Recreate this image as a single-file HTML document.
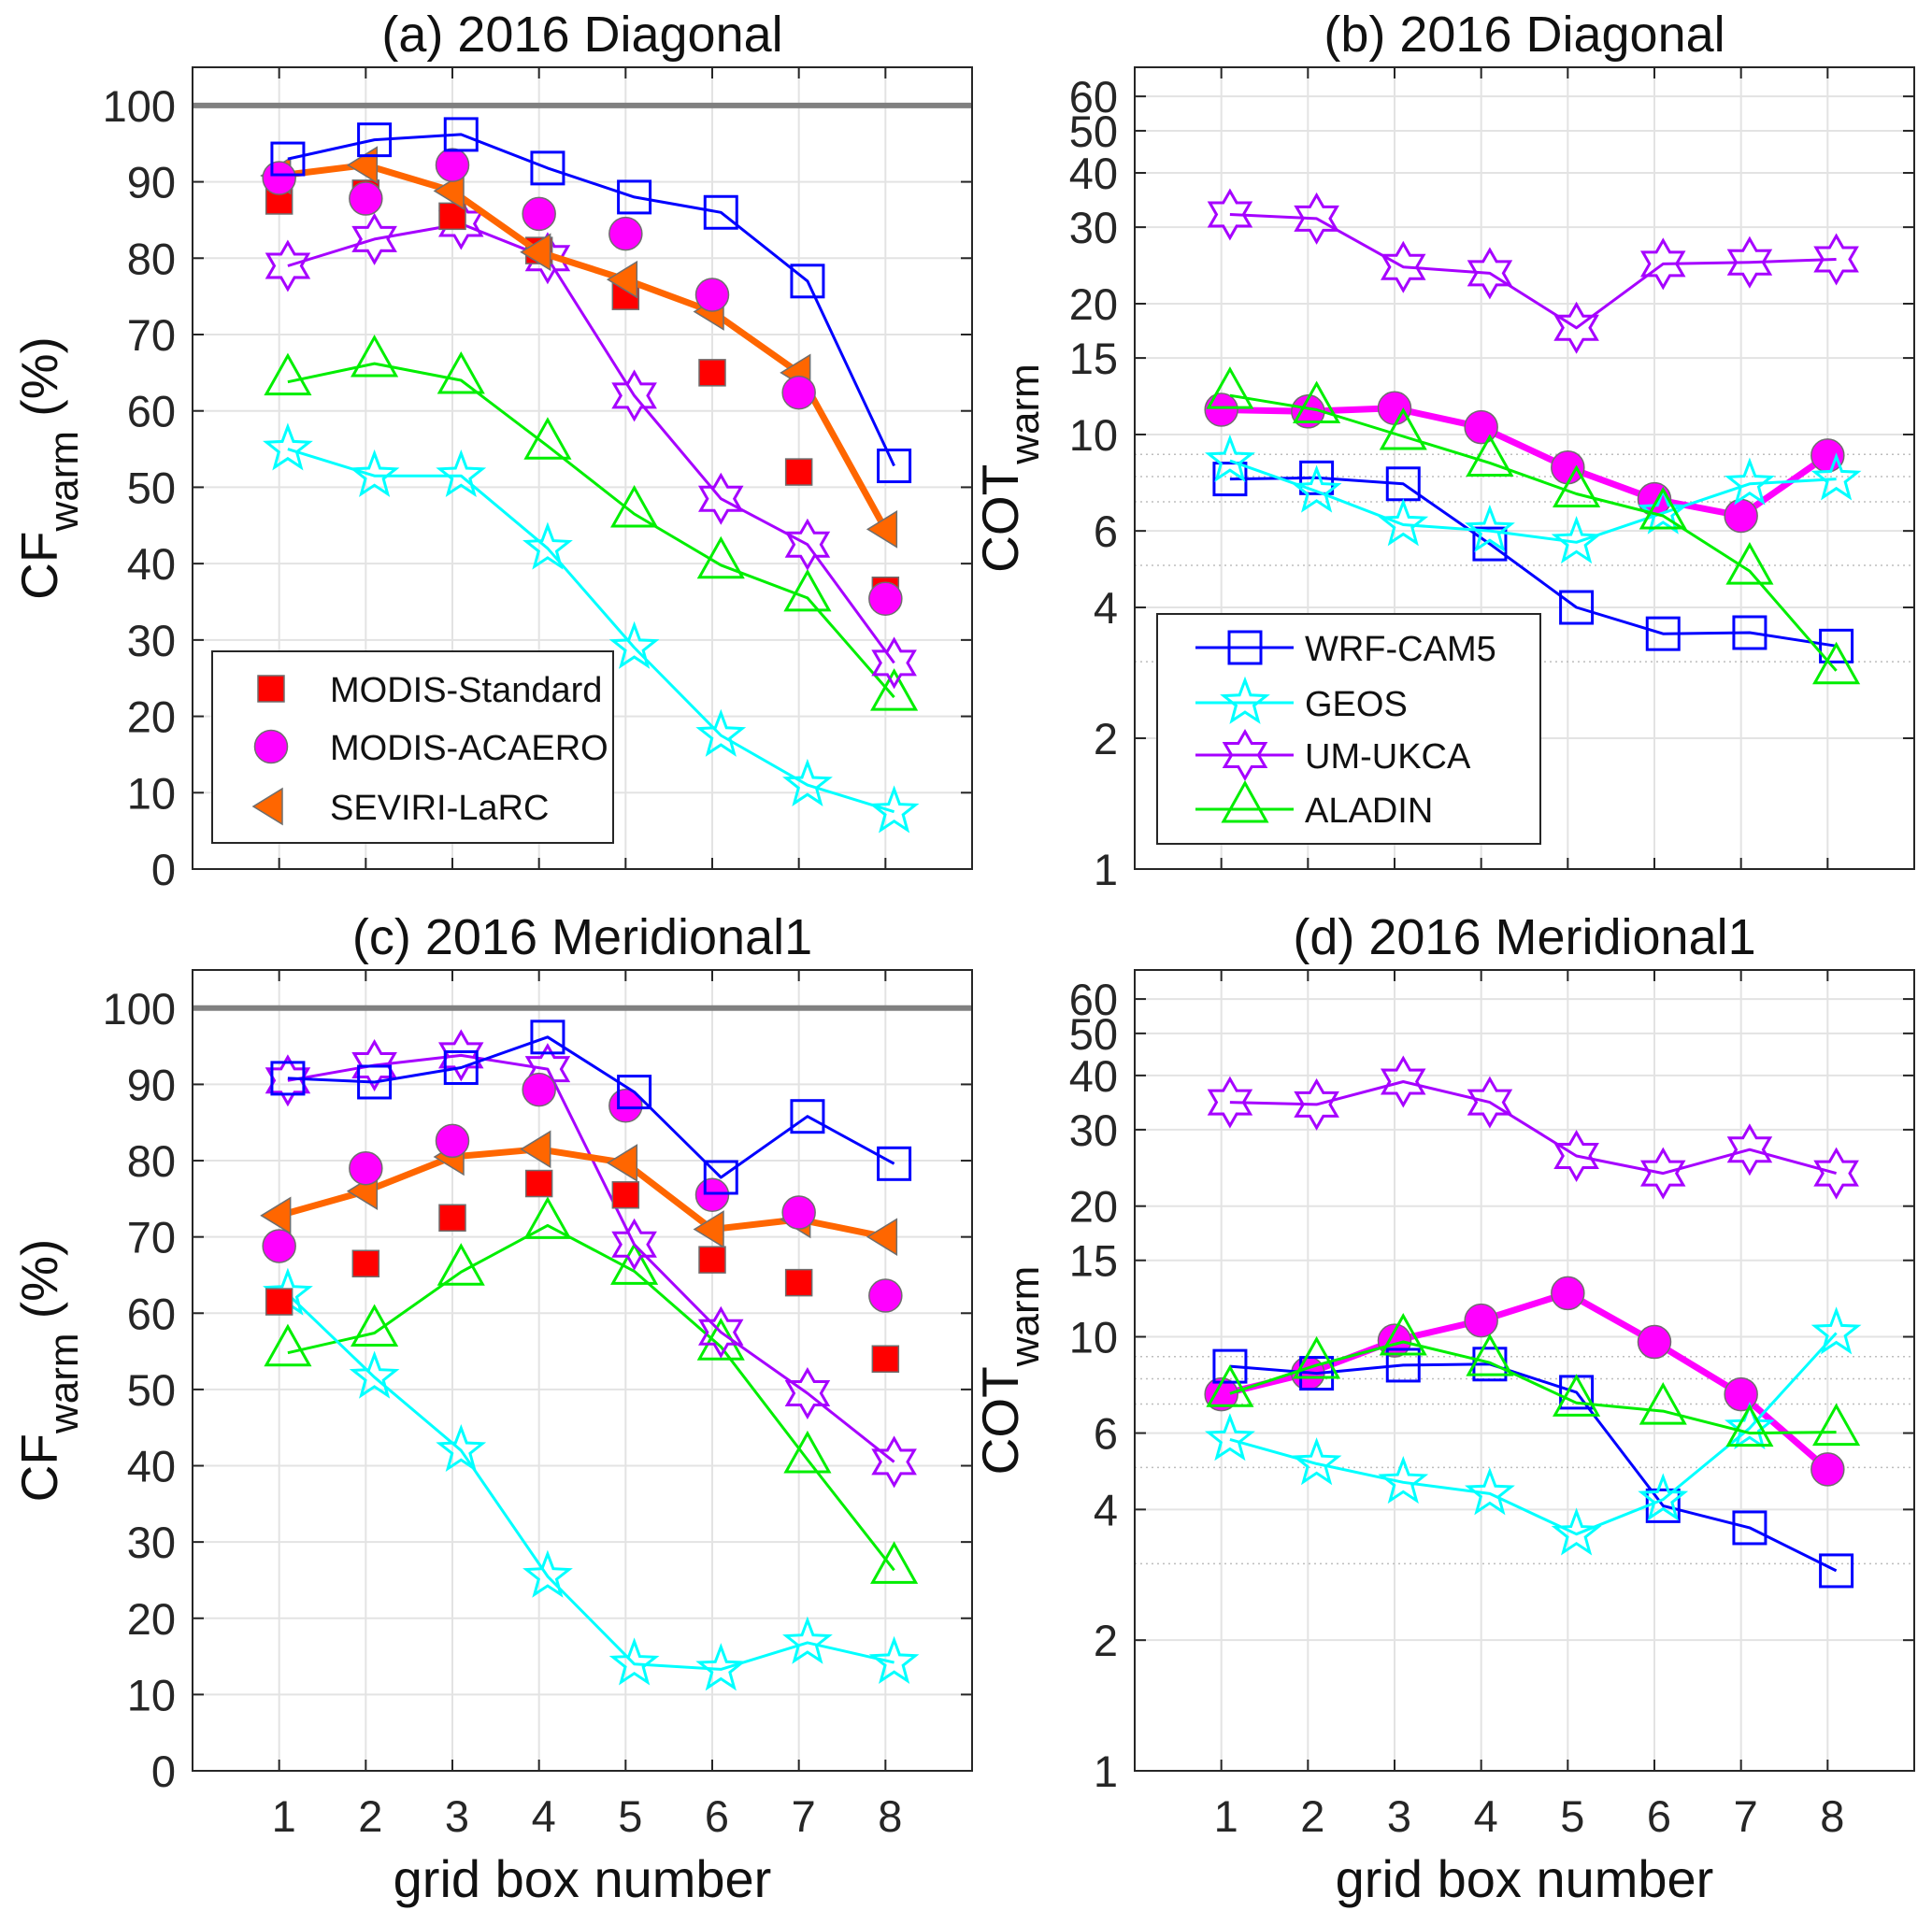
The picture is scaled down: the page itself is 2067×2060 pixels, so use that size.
<!DOCTYPE html>
<html><head><meta charset="utf-8"><style>
html,body{margin:0;padding:0;background:#fff;}
svg{display:block;font-family:"Liberation Sans",Arial,sans-serif;}
</style></head><body>
<svg id="fig" width="2067" height="2060" viewBox="0 0 2067 2060" xmlns="http://www.w3.org/2000/svg"></svg>
<script>
// ---- data ----
const boxes = [1,2,3,4,5,6,7,8];
const cfTicks = [0,10,20,30,40,50,60,70,80,90,100];
const cotTicks = [1,2,4,6,10,15,20,30,40,50,60];
const cotMinor = [3,5,7,8,9];
// panel (a) 2016 Diagonal, CF
const aModisStd = [87.5,88.5,85.5,81,75,65,52,36.5];
const aModisAca = [90.5,87.8,92.2,85.8,83.2,75.2,62.4,35.4];
const aSeviri = [90.8,92.2,88.8,80.8,77.2,73.0,65.0,44.5];
const aWrf = [93,95.5,96.2,91.8,88,86,77,52.8];
const aGeos = [55,51.5,51.5,42,29,17.5,11,7.5];
const aUm = [79,82.5,84.5,80,62,48.5,42.5,27];
const aAladin = [63.8,66.2,64,55.4,46.5,39.8,35.5,22.5];
// panel (b) 2016 Diagonal, COT
const bModisAca = [11.4,11.3,11.5,10.4,8.4,7.1,6.5,8.95];
const bWrf = [7.9,7.95,7.7,5.6,4.0,3.48,3.5,3.26];
const bGeos = [8.7,7.4,6.2,6.0,5.65,6.6,7.7,7.9];
const bUm = [32.1,31.4,24.3,23.5,17.6,24.7,24.9,25.3];
const bAladin = [12.3,11.4,9.9,8.6,7.3,6.5,4.85,2.86];
// panel (c) 2016 Meridional1, CF
const cModisStd = [61.5,66.5,72.5,77,75.5,67,64,54];
const cModisAca = [68.8,79,82.6,89.3,87.2,75.5,73.2,62.3];
const cSeviri = [72.8,76,80.5,81.5,79.7,71,72.3,70];
const cWrf = [90.8,90.3,92.2,96.2,89,77.8,85.8,79.6];
const cGeos = [62.5,51.6,42,25.5,14,13.3,16.8,14.2];
const cUm = [90.5,92.5,93.8,92,69,57.5,49.5,40.5];
const cAladin = [54.8,57.4,65.4,71.5,65.5,55.6,40.8,26.3];
// panel (d) 2016 Meridional1, COT
const dModisAca = [7.37,8.24,9.8,10.9,12.6,9.73,7.37,4.95];
const dWrf = [8.55,8.24,8.6,8.65,7.45,4.08,3.63,2.89];
const dGeos = [5.8,5.1,4.62,4.35,3.51,4.22,6.16,10.2];
const dUm = [34.7,34.3,38.7,34.7,26.1,23.8,27,23.8];
const dAladin = [7.4,8.6,9.73,8.72,7.04,6.74,6.0,6.03];

const NS = "http://www.w3.org/2000/svg";
const svg = document.getElementById('fig');
function mk(tag, attrs, parent){
  const e = document.createElementNS(NS, tag);
  for (const k in attrs) e.setAttribute(k, attrs[k]);
  (parent||svg).appendChild(e);
  return e;
}
const C = {wrf:'#0000ff', geos:'#00ffff', um:'#a600ff', aladin:'#00ee00', orange:'#ff6600', mag:'#ff00ff', red:'#ff0000', edge:'#6e6e6e'};

function makePanel(L,T,R,B,log){
  const p = {L,T,R,B,log};
  p.x = v => L + v/9*(R-L);
  if (log){ const lmax = Math.log10(70); p.y = v => B - Math.log10(v)/lmax*(B-T); }
  else p.y = v => B - v/105*(B-T);
  return p;
}

function marker(g, type, cx, cy, col){
  let e;
  if (type==='sq'){ e = mk('rect',{x:cx-17,y:cy-17,width:34,height:34,fill:'none',stroke:col,'stroke-width':3},g); }
  else if (type==='rsq'){ e = mk('rect',{x:cx-14,y:cy-14,width:28,height:28,fill:C.red,stroke:C.edge,'stroke-width':1.5},g); }
  else if (type==='circ'){ e = mk('circle',{cx:cx,cy:cy,r:17.5,fill:C.mag,stroke:C.edge,'stroke-width':1.5},g); }
  else if (type==='ltri'){ e = mk('polygon',{points:`${cx-19},${cy} ${cx+12},${cy-19} ${cx+12},${cy+19}`,fill:C.orange,stroke:C.edge,'stroke-width':1.5},g); }
  else if (type==='tri'){ e = mk('polygon',{points:`${cx},${cy-28} ${cx+23},${cy+13} ${cx-23},${cy+13}`,fill:'none',stroke:col,'stroke-width':3},g); }
  else if (type==='hex'){
    const r=25; let pts=[];
    for(let i=0;i<12;i++){ const a=-Math.PI/2+i*Math.PI/6; const rr = i%2===0? r : r*0.577; pts.push((cx+rr*Math.cos(a)).toFixed(1)+','+(cy+rr*Math.sin(a)).toFixed(1)); }
    e = mk('polygon',{points:pts.join(' '),fill:'none',stroke:col,'stroke-width':3},g);
  }
  else if (type==='pent'){
    const r=24; let pts=[];
    for(let i=0;i<10;i++){ const a=-Math.PI/2+i*Math.PI/5; const rr = i%2===0? r : r*0.42; pts.push((cx+rr*Math.cos(a)).toFixed(1)+','+(cy+rr*Math.sin(a)).toFixed(1)); }
    e = mk('polygon',{points:pts.join(' '),fill:'none',stroke:col,'stroke-width':3},g);
  }
  return e;
}

function series(p, name, vals, type, col, off, lineW){
  const g = mk('g',{});
  
  
  if (lineW){
    const d = vals.map((v,i)=>(i?'L':'M')+p.x(boxes[i]+off).toFixed(1)+','+p.y(v).toFixed(1)).join(' ');
    mk('path',{d:d,fill:'none',stroke:col,'stroke-width':lineW,'stroke-linejoin':'round'},g);
  }
  vals.forEach((v,i)=>{
    const m = marker(g, type, p.x(boxes[i]+off), p.y(v), col);
    
    
  });
}

function axes(p, title, ylabel, pname){
  const g = mk('g',{});
  
  
  mk('rect',{x:p.L,y:p.T,width:p.R-p.L,height:p.B-p.T,fill:'#fff'},g);
  boxes.forEach(b=>{ mk('line',{x1:p.x(b),x2:p.x(b),y1:p.T,y2:p.B,stroke:'#e3e3e3','stroke-width':2},g); });
  const ticks = p.log ? cotTicks : cfTicks;
  ticks.forEach(t=>{ mk('line',{x1:p.L,x2:p.R,y1:p.y(t),y2:p.y(t),stroke:'#e3e3e3','stroke-width':2},g); });
  if (p.log) cotMinor.forEach(t=>{ mk('line',{x1:p.L,x2:p.R,y1:p.y(t),y2:p.y(t),stroke:'#bdbdbd','stroke-width':1.5,'stroke-dasharray':'2,4'},g); });
  boxes.forEach(b=>{
    mk('line',{x1:p.x(b),x2:p.x(b),y1:p.B,y2:p.B-12,stroke:'#262626','stroke-width':2},g);
    mk('line',{x1:p.x(b),x2:p.x(b),y1:p.T,y2:p.T+12,stroke:'#262626','stroke-width':2},g);
  });
  ticks.forEach(t=>{
    mk('line',{x1:p.L,x2:p.L+12,y1:p.y(t),y2:p.y(t),stroke:'#262626','stroke-width':2},g);
    mk('line',{x1:p.R,x2:p.R-12,y1:p.y(t),y2:p.y(t),stroke:'#262626','stroke-width':2},g);
    const tx = mk('text',{x:p.L-18,y:p.y(t)+17,'text-anchor':'end','font-size':47,fill:'#262626'},g);
    tx.textContent = t;
    
    
  });
  if (pname==='panel-c'||pname==='panel-d'){
    boxes.forEach(b=>{
      const tx = mk('text',{x:p.x(b)+5,y:1960,'text-anchor':'middle','font-size':47,fill:'#262626'},g);
      tx.textContent = b;
      
      
    });
    const xl = mk('text',{x:(p.L+p.R)/2,y:2030,'text-anchor':'middle','font-size':56,fill:'#111'},g);
    xl.textContent = 'grid box number';
    
    
  }
  const tt = mk('text',{x:(p.L+p.R)/2,y:p.T-17,'text-anchor':'middle','font-size':54,fill:'#111'},g);
  tt.textContent = title;
  
  
  const cy = (p.T+p.B)/2;
  const lx = p.L - (p.log ? 125 : 145);
  const yl = mk('text',{x:0,y:0,'text-anchor':'middle','font-size':55,fill:'#111',transform:`translate(${lx},${cy}) rotate(-90)`},g);
  
  
  const t1 = mk('tspan',{},yl); t1.textContent = ylabel;
  const t2 = mk('tspan',{'font-size':44,dy:22},yl); t2.textContent = 'warm';
  if (!p.log){ const t3 = mk('tspan',{dy:-22},yl); t3.textContent = ' (%)'; }
}

function frame(p){
  mk('rect',{x:p.L,y:p.T,width:p.R-p.L,height:p.B-p.T,fill:'none',stroke:'#262626','stroke-width':2});
}

function cfPanel(p, title, pname, std, aca, sev, wrf, geos, um, ala){
  axes(p, title, 'CF', pname);
  mk('line',{x1:p.L,x2:p.R,y1:p.y(100),y2:p.y(100),stroke:'#808080','stroke-width':6});
  series(p,'aladin-series',ala,'tri',C.aladin,0.1,3);
  series(p,'geos-series',geos,'pent',C.geos,0.1,3);
  series(p,'um-ukca-series',um,'hex',C.um,0.1,3);
  series(p,'modis-standard-series',std,'rsq',C.red,0,0);
  series(p,'seviri-larc-series',sev,'ltri',C.orange,0,7);
  series(p,'modis-acaero-series',aca,'circ',C.mag,0,0);
  series(p,'wrf-cam5-series',wrf,'sq',C.wrf,0.1,3);
  frame(p);
}
function cotPanel(p, title, pname, aca, wrf, geos, um, ala){
  axes(p, title, 'COT', pname);
  series(p,'modis-acaero-series',aca,'circ',C.mag,0,7);
  series(p,'wrf-cam5-series',wrf,'sq',C.wrf,0.1,3);
  series(p,'geos-series',geos,'pent',C.geos,0.1,3);
  series(p,'aladin-series',ala,'tri',C.aladin,0.1,3);
  series(p,'um-ukca-series',um,'hex',C.um,0.1,3);
  frame(p);
}

const pa = makePanel(206,72,1040,930,false);
const pb = makePanel(1214,72,2048,930,true);
const pc = makePanel(206,1038,1040,1895,false);
const pd = makePanel(1214,1038,2048,1895,true);
cfPanel(pa,'(a) 2016 Diagonal','panel-a',aModisStd,aModisAca,aSeviri,aWrf,aGeos,aUm,aAladin);
cotPanel(pb,'(b) 2016 Diagonal','panel-b',bModisAca,bWrf,bGeos,bUm,bAladin);
cfPanel(pc,'(c) 2016 Meridional1','panel-c',cModisStd,cModisAca,cSeviri,cWrf,cGeos,cUm,cAladin);
cotPanel(pd,'(d) 2016 Meridional1','panel-d',dModisAca,dWrf,dGeos,dUm,dAladin);

// legend (a)
const lgA = mk('g',{});


mk('rect',{x:227,y:697,width:429,height:205,fill:'#fff',stroke:'#262626','stroke-width':2},lgA);
[['rsq','MODIS-Standard',737],['circ','MODIS-ACAERO',799],['ltri','SEVIRI-LaRC',863]].forEach(e=>{
  const gi = mk('g',{},lgA);
  
  
  marker(gi,e[0],290,e[2],null);
  const t = mk('text',{x:353,y:e[2]+14,'font-size':38,fill:'#111'},gi);
  t.textContent = e[1];
});
// legend (b)
const lgB = mk('g',{});


mk('rect',{x:1238,y:657,width:410,height:246,fill:'#fff',stroke:'#262626','stroke-width':2},lgB);
[['sq','WRF-CAM5',C.wrf,693],['pent','GEOS',C.geos,752],['hex','UM-UKCA',C.um,808],['tri','ALADIN',C.aladin,866]].forEach(e=>{
  const gi = mk('g',{},lgB);
  
  
  mk('line',{x1:1279,x2:1384,y1:e[3],y2:e[3],stroke:e[2],'stroke-width':3},gi);
  marker(gi,e[0],1332,e[3],e[2]);
  const t = mk('text',{x:1396,y:e[3]+14,'font-size':38,fill:'#111'},gi);
  t.textContent = e[1];
});
</script>
</body></html>
